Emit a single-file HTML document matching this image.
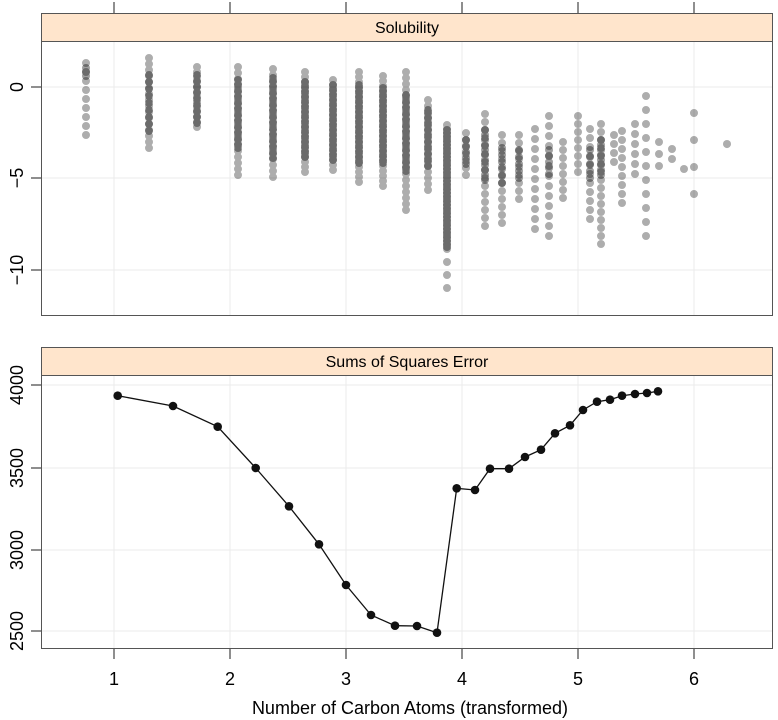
<!DOCTYPE html>
<html><head><meta charset="utf-8"><style>
html,body{margin:0;padding:0;background:#fff;}
svg{display:block;font-family:"Liberation Sans",sans-serif;}
</style></head><body>
<svg width="778" height="720" viewBox="0 0 778 720" xmlns="http://www.w3.org/2000/svg">
<g stroke="#ebebeb" stroke-width="1">
<line x1="114" y1="41" x2="114" y2="315"/><line x1="230" y1="41" x2="230" y2="315"/><line x1="346" y1="41" x2="346" y2="315"/><line x1="462" y1="41" x2="462" y2="315"/><line x1="578" y1="41" x2="578" y2="315"/><line x1="694" y1="41" x2="694" y2="315"/>
<line x1="41" y1="87" x2="773" y2="87"/><line x1="41" y1="178" x2="773" y2="178"/><line x1="41" y1="270" x2="773" y2="270"/>
<line x1="114" y1="375" x2="114" y2="648"/><line x1="230" y1="375" x2="230" y2="648"/><line x1="346" y1="375" x2="346" y2="648"/><line x1="462" y1="375" x2="462" y2="648"/><line x1="578" y1="375" x2="578" y2="648"/><line x1="694" y1="375" x2="694" y2="648"/>
<line x1="41" y1="385" x2="773" y2="385"/><line x1="41" y1="468" x2="773" y2="468"/><line x1="41" y1="550" x2="773" y2="550"/><line x1="41" y1="631" x2="773" y2="631"/>
</g>
<g fill="none" stroke="#000" stroke-opacity="0.32" stroke-width="8" stroke-linecap="round" stroke-dasharray="0 7">
<path d="M86 63V144" stroke-dasharray="0 9"/>
<path d="M149 58V153" stroke-dasharray="0 6"/>
<path d="M197 67V131" stroke-dasharray="0 5"/>
<path d="M238 67V177" stroke-dasharray="0 6"/>
<path d="M273 69V182" stroke-dasharray="0 6"/>
<path d="M305 72V173" stroke-dasharray="0 5"/>
<path d="M333 80V173" stroke-dasharray="0 5"/>
<path d="M359 72V184" stroke-dasharray="0 5"/>
<path d="M383 76V188" stroke-dasharray="0 5"/>
<path d="M406 72V211" stroke-dasharray="0 6"/>
<path d="M428 100V193" stroke-dasharray="0 6"/>
<path d="M447 125V252" stroke-dasharray="0 4"/>
<path d="M466 133V177"/>
<path d="M485 114V233" stroke-dasharray="0 8"/>
<path d="M502 135V224" stroke-dasharray="0 8"/>
<path d="M519 135V204" stroke-dasharray="0 8"/>
<path d="M535 129V239" stroke-dasharray="0 10"/>
<path d="M549 116V243" stroke-dasharray="0 10"/>
<path d="M563 142V206" stroke-dasharray="0 8"/>
<path d="M578 116V178" stroke-dasharray="0 8"/>
<path d="M590 129V226" stroke-dasharray="0 9"/>
<path d="M601 124V248" stroke-dasharray="0 8"/>
<path d="M614 135V171" stroke-dasharray="0 9"/>
<path d="M622 131V204" stroke-dasharray="0 9"/>
<path d="M635 124V182" stroke-dasharray="0 10"/>
<path d="M646 96V239" stroke-dasharray="0 14"/>
<path d="M659 142V178" stroke-dasharray="0 12"/>
<path d="M672 149V168" stroke-dasharray="0 10"/>
<path d="M684 169V178" stroke-dasharray="0 9"/>
<path d="M694 113V221" stroke-dasharray="0 27"/>
<path d="M447 262V300" stroke-dasharray="0 13"/>
<path d="M727 144V144.1" stroke-dasharray="none"/>
</g>
<g fill="none" stroke="#000" stroke-opacity="0.38" stroke-width="8" stroke-linecap="round" stroke-dasharray="0 4">
<path d="M86 68V80"/>
<path d="M149 75V135" stroke-dasharray="0 7"/>
<path d="M197 75V125" stroke-dasharray="0 6"/>
<path d="M238 80V150"/>
<path d="M273 78V160"/>
<path d="M305 82V158" stroke-dasharray="0 3"/>
<path d="M333 85V162" stroke-dasharray="0 3"/>
<path d="M359 85V165" stroke-dasharray="0 3"/>
<path d="M383 88V165" stroke-dasharray="0 3"/>
<path d="M406 95V172"/>
<path d="M428 110V170"/>
<path d="M447 130V250" stroke-dasharray="0 3"/>
<path d="M466 140V170" stroke-dasharray="0 6"/>
<path d="M485 130V182" stroke-dasharray="0 5"/>
<path d="M502 148V190" stroke-dasharray="0 7"/>
<path d="M519 150V185" stroke-dasharray="0 7"/>
<path d="M549 150V180" stroke-dasharray="0 6"/>
<path d="M601 140V180" stroke-dasharray="0 5"/>
<path d="M590 150V180" stroke-dasharray="0 7"/>
</g>
<rect x="41.5" y="13.5" width="731" height="28" fill="#ffe5cc" stroke="#555"/>
<text x="407" y="33" font-size="16" text-anchor="middle" fill="#000">Solubility</text>
<rect x="41.5" y="13.5" width="731" height="302" fill="none" stroke="#555"/>
<rect x="41.5" y="347.5" width="731" height="28" fill="#ffe5cc" stroke="#555"/>
<text x="407" y="367" font-size="16" text-anchor="middle" fill="#000">Sums of Squares Error</text>
<rect x="41.5" y="347.5" width="731" height="301" fill="none" stroke="#555"/>
<g stroke="#444" stroke-width="1.2">
<line x1="114" y1="2" x2="114" y2="13"/><line x1="230" y1="2" x2="230" y2="13"/><line x1="346" y1="2" x2="346" y2="13"/><line x1="462" y1="2" x2="462" y2="13"/><line x1="578" y1="2" x2="578" y2="13"/><line x1="694" y1="2" x2="694" y2="13"/>
<line x1="114" y1="649" x2="114" y2="659"/><line x1="230" y1="649" x2="230" y2="659"/><line x1="346" y1="649" x2="346" y2="659"/><line x1="462" y1="649" x2="462" y2="659"/><line x1="578" y1="649" x2="578" y2="659"/><line x1="694" y1="649" x2="694" y2="659"/>
<line x1="31" y1="87" x2="41" y2="87"/><line x1="31" y1="178" x2="41" y2="178"/><line x1="31" y1="270" x2="41" y2="270"/>
<line x1="31" y1="385" x2="41" y2="385"/><line x1="31" y1="468" x2="41" y2="468"/><line x1="31" y1="550" x2="41" y2="550"/><line x1="31" y1="631" x2="41" y2="631"/>
</g>
<g font-size="18" fill="#000" text-anchor="middle">
<text x="114" y="685">1</text><text x="230" y="685">2</text><text x="346" y="685">3</text><text x="462" y="685">4</text><text x="578" y="685">5</text><text x="694" y="685">6</text>
<text x="410" y="714">Number of Carbon Atoms (transformed)</text>
<text transform="translate(23,87) rotate(-90)">0</text>
<text transform="translate(23,178) rotate(-90)">−5</text>
<text transform="translate(23,270) rotate(-90)">−10</text>
<text transform="translate(23,385) rotate(-90)">4000</text>
<text transform="translate(23,468) rotate(-90)">3500</text>
<text transform="translate(23,550) rotate(-90)">3000</text>
<text transform="translate(23,631) rotate(-90)">2500</text>
</g>
<polyline fill="none" stroke="#111" stroke-width="1.3" points="117.7,395.7 173,406 217.7,426.7 255.7,468 289,506.3 319,544.3 346,585 371,615 395,625.7 417,626 437,632.7 456.7,488.3 475,490 490,468.7 509,468.7 525,457 541,449.7 555,433.3 570,425.3 583,410 597,401.7 610,399.7 622,395.7 635,394 647,393 658,391.3"/>
<g fill="#111">
<circle cx="117.7" cy="395.7" r="4.3"/><circle cx="173" cy="406" r="4.3"/><circle cx="217.7" cy="426.7" r="4.3"/><circle cx="255.7" cy="468" r="4.3"/><circle cx="289" cy="506.3" r="4.3"/><circle cx="319" cy="544.3" r="4.3"/><circle cx="346" cy="585" r="4.3"/><circle cx="371" cy="615" r="4.3"/><circle cx="395" cy="625.7" r="4.3"/><circle cx="417" cy="626" r="4.3"/><circle cx="437" cy="632.7" r="4.3"/><circle cx="456.7" cy="488.3" r="4.3"/><circle cx="475" cy="490" r="4.3"/><circle cx="490" cy="468.7" r="4.3"/><circle cx="509" cy="468.7" r="4.3"/><circle cx="525" cy="457" r="4.3"/><circle cx="541" cy="449.7" r="4.3"/><circle cx="555" cy="433.3" r="4.3"/><circle cx="570" cy="425.3" r="4.3"/><circle cx="583" cy="410" r="4.3"/><circle cx="597" cy="401.7" r="4.3"/><circle cx="610" cy="399.7" r="4.3"/><circle cx="622" cy="395.7" r="4.3"/><circle cx="635" cy="394" r="4.3"/><circle cx="647" cy="393" r="4.3"/><circle cx="658" cy="391.3" r="4.3"/>
</g>
</svg>
</body></html>
